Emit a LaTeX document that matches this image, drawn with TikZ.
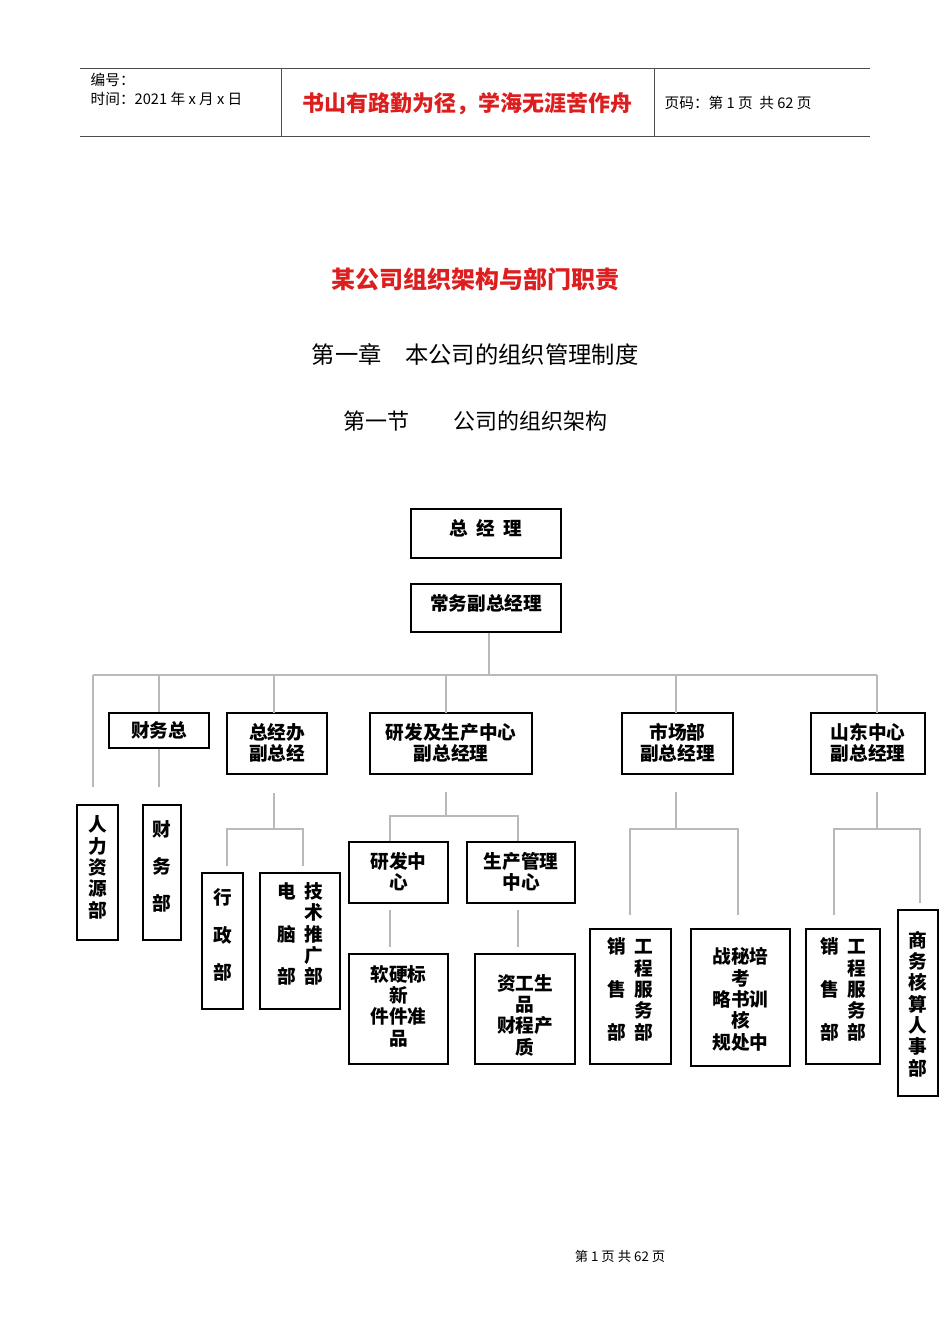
\documentclass[tikz,border=0pt]{standalone}
\usepackage{fontspec}
\setmainfont{Noto Sans CJK SC}
\definecolor{tred}{RGB}{220,30,30}
\definecolor{lgray}{RGB}{185,185,185}
\newcommand\mkbox[7]{%
 \pgfmathsetmacro\bw{(#4-#2)*0.75}\pgfmathsetmacro\bh{(#5-#3)*0.75}%
 \node[box,minimum width=\bw pt,minimum height=\bh pt] (#1) at ({(#2+#4)/2},{(#3+#5)/2}) {};
 \node[btext] (#1-t) at ({(#2+#4)/2},{(#3+#5)/2+#7}) {#6};}
\begin{document}
\begin{tikzpicture}[x=0.75pt,y=-0.75pt,
 box/.style={draw=black,line width=0.9pt,inner sep=0pt},
 btext/.style={inner sep=0pt,align=center,font=\bfseries\fontsize{14}{16}\selectfont},
 conn/.style={draw=lgray,line width=0.8pt},
 hline/.style={draw=black!70,line width=0.6pt}]
\useasboundingbox (0,0) rectangle (950,1344);
% header
\draw[hline] (80,68) -- (870,68);
\draw[hline] (80,136) -- (870,136);
\draw[hline] (281,68) -- (281,136);
\draw[hline] (654,68) -- (654,136);
\node[anchor=west,font=\fontsize{11}{12}\selectfont] (hd1) at (86,80) {编号：};
\node[anchor=west,font=\fontsize{11}{12}\selectfont] (hd2) at (86,99) {时间：2021 年 x 月 x 日};
\node[text=tred,font=\bfseries\fontsize{16.5}{18}\selectfont] (hd3) at (467,104) {书山有路勤为径，学海无涯苦作舟};
\node[anchor=west,font=\fontsize{11}{12}\selectfont] (hd4) at (660,103) {页码：第 1 页\ \ 共 62 页};
% titles
\node[text=tred,font=\bfseries\fontsize{18}{20}\selectfont] (t1) at (475,279) {某公司组织架构与部门职责};
\node[font=\fontsize{17.5}{20}\selectfont] (t2) at (475,354) {第一章\quad 本公司的组织管理制度};
\node[font=\fontsize{16.5}{18}\selectfont] (t3) at (475,421) {第一节\qquad 公司的组织架构};
\node[font=\fontsize{10}{12}\selectfont] (ft) at (620,1256) {第 1 页 共 62 页};
% boxes
\mkbox{gm}{411}{509}{561}{558}{总\ \ 经\ \ 理}{-5}
\mkbox{cw}{411}{584}{561}{632}{常务副总经理}{-5}
\mkbox{cwz}{109}{713}{209}{748}{财务总}{0}
\mkbox{zjb}{227}{713}{327}{774}{总经办\\副总经}{-1}
\mkbox{yf}{370}{713}{532}{774}{研发及生产中心\\副总经理}{-1}
\mkbox{sc}{622}{713}{733}{774}{市场部\\副总经理}{-1}
\mkbox{sd}{811}{713}{925}{774}{山东中心\\副总经理}{-1}
\mkbox{rl}{77}{805}{118}{940}{人\\力\\资\\源\\部}{-5}
\mkbox{cwb}{143}{805}{181}{940}{财\\[12pt]务\\[12pt]部}{-6}
\mkbox{xz}{202}{873}{243}{1009}{行\\[12pt]政\\[12pt]部}{-6}
\mkbox{dn}{260}{873}{340}{1009}{电\ \ 技\\\hphantom{电\ \ }术\\脑\ \ 推\\\hphantom{电\ \ }广\\部\ \ 部}{-7}
\mkbox{yfzx}{349}{842}{448}{903}{研发中\\心}{-1}
\mkbox{scgl}{467}{842}{575}{903}{生产管理\\中心}{-1}
\mkbox{rj}{349}{954}{448}{1064}{软硬标\\新\\件件准\\品}{-3}
\mkbox{zg}{475}{954}{575}{1064}{资工生\\品\\财程产\\质}{6}
\mkbox{xs1}{590}{929}{671}{1064}{销\ \ 工\\\hphantom{销\ \ }程\\售\ \ 服\\\hphantom{销\ \ }务\\部\ \ 部}{-7}
\mkbox{zl}{691}{929}{790}{1066}{战秘培\\考\\略书训\\核\\规处中}{2}
\mkbox{xs2}{806}{929}{880}{1064}{销\ \ 工\\\hphantom{销\ \ }程\\售\ \ 服\\\hphantom{销\ \ }务\\部\ \ 部}{-7}
\mkbox{sw}{898}{910}{938}{1096}{商\\务\\核\\算\\人\\事\\部}{1}
% connectors
\coordinate (bus) at (489,675);
\coordinate (busL) at (93,675);
\coordinate (busR) at (877,675);
\draw[conn] (cw.south -| bus) -- (bus);
\draw[conn] (busL) -- (busR);
\draw[conn] (busL) -- (93,787);
\draw[conn] (cwz.north) -- (cwz.north |- bus);
\draw[conn] (cwz.south) -- (159,787);
\draw[conn] (274,713) -- (274,675);
\draw[conn] (446,713) -- (446,675);
\draw[conn] (676,713) -- (676,675);
\draw[conn] (877,713) -- (busR);
% 总经办
\draw[conn] (274,793) -- (274,829);
\draw[conn] (227,866) -- (227,829) -- (303,829) -- (303,866);
% 研发
\draw[conn] (446,792) -- (446,816);
\draw[conn] (390,841) -- (390,816) -- (518,816) -- (518,841);
\draw[conn] (390,910) -- (390,947);
\draw[conn] (518,910) -- (518,947);
% 市场
\draw[conn] (676,792) -- (676,829);
\draw[conn] (630,915) -- (630,829) -- (738,829) -- (738,915);
% 山东
\draw[conn] (877,792) -- (877,829);
\draw[conn] (834,915) -- (834,829) -- (920,829) -- (920,903);
\end{tikzpicture}
\end{document}
